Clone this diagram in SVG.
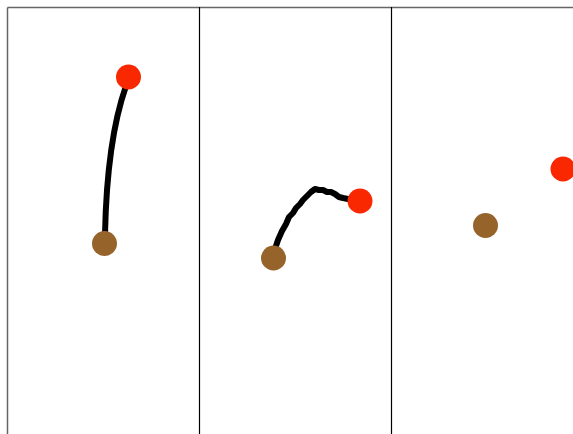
<svg xmlns="http://www.w3.org/2000/svg" width="573" height="434" viewBox="0 0 573 434">
<style>
.frame{fill:none;stroke:#666;stroke-width:1.5}
.div{stroke:#000;stroke-width:1.2}
.trail{fill:none;stroke:#000;stroke-width:6;stroke-linecap:round;stroke-linejoin:round}
.red{fill:#f92800}
.brown{fill:#96632a}
</style>
<rect width="573" height="434" fill="#fff"/>
<g id="frames">
<line class="frame" x1="7.5" y1="7.5" x2="573" y2="7.5"/>
<line class="frame" x1="7.5" y1="7.5" x2="7.5" y2="434"/>
<line class="div" x1="199.5" y1="7" x2="199.5" y2="434"/>
<line class="div" x1="391.5" y1="7" x2="391.5" y2="434"/>
</g>
<g id="connectors">
<path class="trail" d="M105,234 Q107,140 126,86"/>
<path class="trail" d="M275,249 L278,240 L282,231 L286,224 L289,217 L293,213 L296,208 L300,204 L303,200 L307,196 L311,192 L315,189 L319,190 L323,190 L327,192 L331,192 L335,194 L339,197 L343,198 L348,199"/>
</g>
<g id="node-left-red"><circle class="red" cx="128.5" cy="77" r="12.5"/></g>
<g id="node-left-brown"><circle class="brown" cx="104.5" cy="243.5" r="12.5"/></g>
<g id="node-mid-red"><circle class="red" cx="360" cy="201" r="12.5"/></g>
<g id="node-mid-brown"><circle class="brown" cx="273.5" cy="258" r="12.5"/></g>
<g id="node-right-red"><circle class="red" cx="563" cy="169" r="12.5"/></g>
<g id="node-right-brown"><circle class="brown" cx="485.5" cy="225.5" r="12.5"/></g>
</svg>
